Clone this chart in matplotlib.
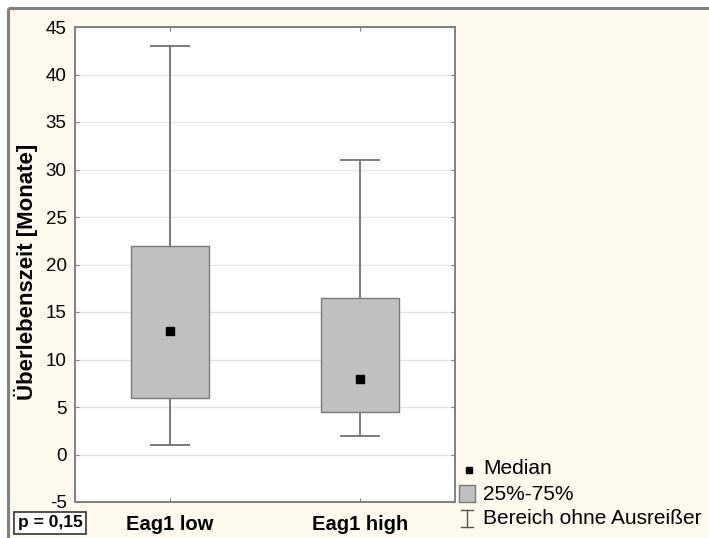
import matplotlib
matplotlib.use("Agg")
import matplotlib.pyplot as plt
from matplotlib.patches import Rectangle
from matplotlib.lines import Line2D

# ---- data ----
categories = ["Eag1 low", "Eag1 high"]
medians = [13, 8]
q1 = [6, 4.5]
q3 = [22, 16.5]
whisk_low = [1, 2]
whisk_high = [43, 31]
yticks = [-5, 0, 5, 10, 15, 20, 25, 30, 35, 40, 45]
ylabel = "Überlebenszeit [Monate]"
legend_labels = ["Median", "25%-75%", "Bereich ohne Ausreißer"]
p_text = "p = 0,15"

plt.rcParams['font.family'] = ['Liberation Sans', 'DejaVu Sans']

W, H = 709, 538
fig = plt.figure(figsize=(W / 100, H / 100), dpi=100)
fig.patch.set_facecolor("white")

# overlay in pixel coordinates (background frame, legend)
ov = fig.add_axes([0, 0, 1, 1])
ov.set_xlim(0, W)
ov.set_ylim(H, 0)
ov.axis("off")
ov.add_patch(Rectangle((8, 8), W, H, facecolor="#FFF9EE", edgecolor="none", zorder=0))
ov.plot([8, 8], [8, H], color="#808080", lw=2.2, zorder=1, solid_capstyle="butt")
ov.plot([8, W], [8, 8], color="#808080", lw=2.2, zorder=1, solid_capstyle="butt")

# main axes
ax = fig.add_axes([75 / W, 1 - 502 / H, (455 - 75) / W, (502 - 27) / H])
ax.set_facecolor("white")
ax.set_xlim(0, 2)
ax.set_ylim(-5, 45)
pos = [0.5, 1.5]
box_w = 0.41
cap_w = 0.205
gray_edge = "#7a7a7a"

for y in yticks:
    ax.axhline(y, color="#e6e6e6", lw=1.0, zorder=0)

for i, x in enumerate(pos):
    # whiskers
    ax.plot([x, x], [whisk_low[i], q1[i]], color=gray_edge, lw=1.4, zorder=2)
    ax.plot([x, x], [q3[i], whisk_high[i]], color=gray_edge, lw=1.4, zorder=2)
    ax.plot([x - cap_w / 2, x + cap_w / 2], [whisk_low[i]] * 2, color=gray_edge, lw=1.4, zorder=2)
    ax.plot([x - cap_w / 2, x + cap_w / 2], [whisk_high[i]] * 2, color=gray_edge, lw=1.4, zorder=2)
    ax.add_patch(Rectangle((x - box_w / 2, q1[i]), box_w, q3[i] - q1[i],
                           facecolor="#c0c0c0", edgecolor=gray_edge, lw=1.0, zorder=3))
    ax.plot([x], [medians[i]], marker="s", ms=5.5, color="black", zorder=4, ls="none")

ax.set_xticks(pos)
ax.set_xticklabels(categories, fontsize=14.5, fontweight="bold")
ax.set_yticks(yticks)
ax.set_yticklabels([str(v) for v in yticks], fontsize=13.5)
ax.tick_params(axis="x", direction="in", length=3, top=True, bottom=True, pad=9, color="#808080")
ax.tick_params(axis="y", direction="in", length=3, left=True, right=True, pad=6, color="#808080")
for s in ax.spines.values():
    s.set_color("#808080")
    s.set_linewidth(1.4)

fig.text(26 / W, 1 - 272 / H, ylabel, rotation=90, ha="center", va="center",
         fontsize=16, fontweight="bold")

# p-value box
fig.text(50 / W, 1 - 523 / H, p_text, ha="center", va="center", fontsize=12.5, fontweight="bold",
         bbox=dict(boxstyle="square,pad=0.2", facecolor="white", edgecolor="#333333", lw=1.2))

# legend (drawn in pixel coordinates)
ov.plot([469], [470], marker="s", ms=5, color="black", ls="none")
ov.add_patch(Rectangle((459, 485), 16, 17, facecolor="#c0c0c0", edgecolor=gray_edge, lw=1))
ov.plot([467, 467], [510, 527], color="#555555", lw=1.0)
ov.plot([461, 473], [510, 510], color="#555555", lw=1.0)
ov.plot([461, 473], [527, 527], color="#555555", lw=1.0)
for lab, yy in zip(legend_labels, [469, 494, 518]):
    ov.text(483, yy, lab, ha="left", va="center", fontsize=15)

fig.savefig("out.png", dpi=100, facecolor=fig.get_facecolor())
